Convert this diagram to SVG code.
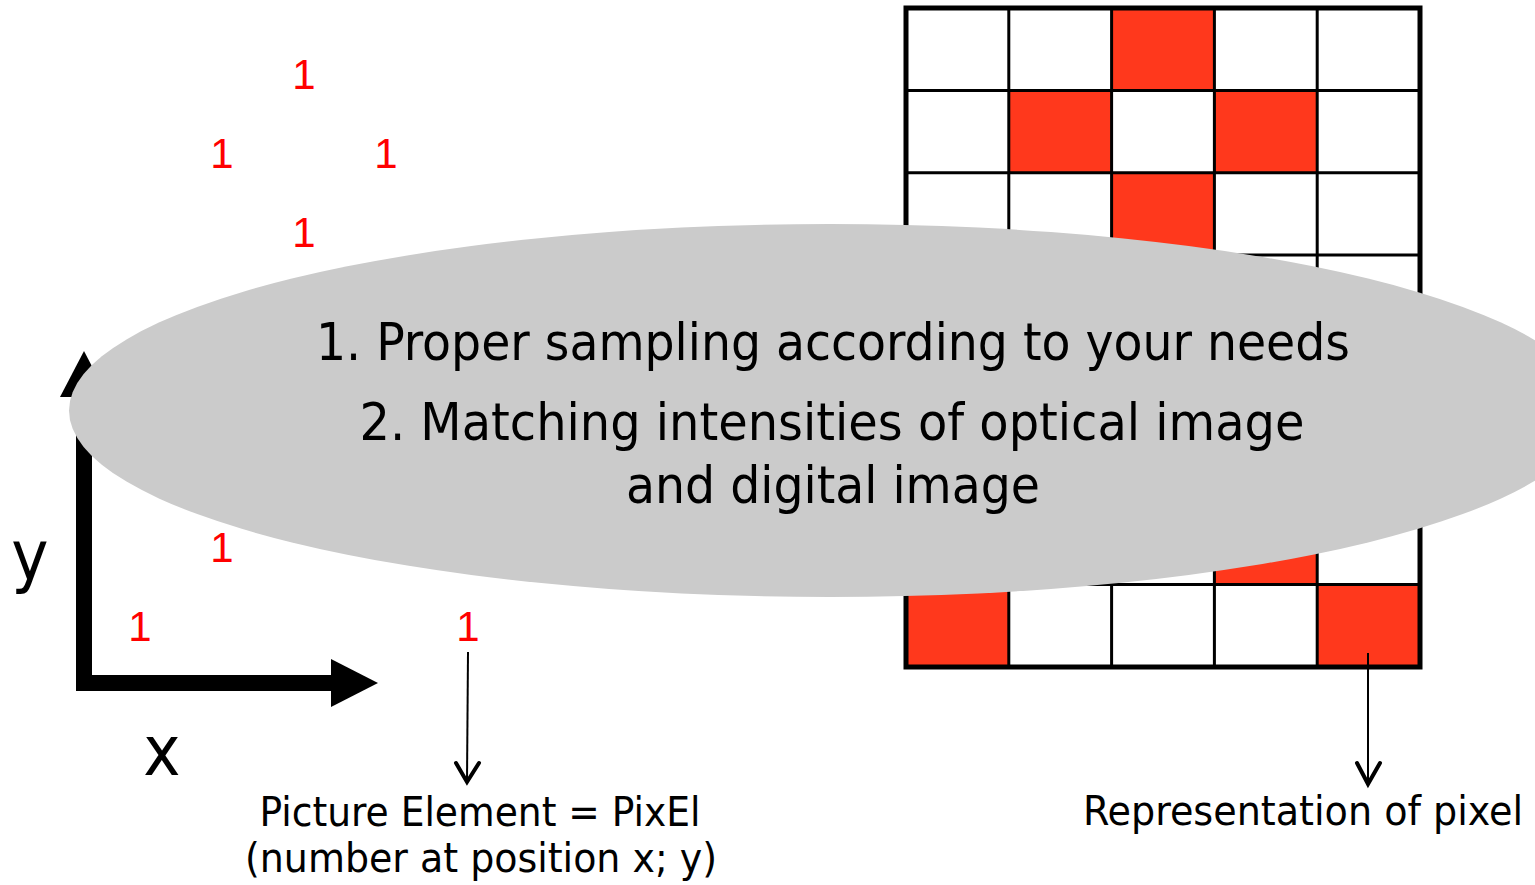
<svg xmlns="http://www.w3.org/2000/svg" width="1535" height="885" viewBox="0 0 1535 885">
<defs>
<style>
.red{fill:#FF381C}
.cell{fill:none;stroke:#000;stroke-width:3}
.num{font-family:"Liberation Sans",Arial,sans-serif;font-size:42px;fill:#FF0000;text-anchor:middle}
.lbl{font-family:"DejaVu Sans Condensed","DejaVu Sans",sans-serif;fill:#000}
.ptr{stroke:#000;stroke-width:2;fill:none}
.chev{stroke:#000;stroke-width:4;fill:none;stroke-linecap:round;stroke-linejoin:miter}
</style>
</defs>
<rect width="1535" height="885" fill="#fff"/>
<g id="grid">
<rect class="red" x="1111.6" y="8" width="102.8" height="82.4"/>
<rect class="red" x="1008.8" y="90.4" width="102.8" height="82.4"/>
<rect class="red" x="1214.4" y="90.4" width="102.8" height="82.4"/>
<rect class="red" x="1111.6" y="172.8" width="102.8" height="82.4"/>
<rect class="red" x="1214.4" y="502.3" width="102.8" height="82.4"/>
<rect class="red" x="906" y="584.6" width="102.8" height="82.4"/>
<rect class="red" x="1317.2" y="584.6" width="102.8" height="82.4"/>
<path class="cell" d="M1008.8 8V667M1111.6 8V667M1214.4 8V667M1317.2 8V667M906 90.4H1420M906 172.8H1420M906 255.1H1420M906 337.5H1420M906 419.9H1420M906 502.3H1420M906 584.6H1420"/>
<rect x="906" y="8" width="514" height="659" fill="none" stroke="#000" stroke-width="5"/>
</g>
<g id="numbers">
<text class="num" x="304" y="89">1</text>
<text class="num" x="222" y="168">1</text>
<text class="num" x="386" y="168">1</text>
<text class="num" x="304" y="247">1</text>
<text class="num" x="222" y="562">1</text>
<text class="num" x="140" y="641">1</text>
<text class="num" x="468" y="641">1</text>
</g>
<g id="axes">
<path d="M84 397V683H331" fill="none" stroke="#000" stroke-width="16"/>
<polygon points="84,351 108,397 60,397" fill="#000"/>
<polygon points="378,683 331,659 331,707" fill="#000"/>
<text class="lbl" x="30" y="580" font-size="70" text-anchor="middle">y</text>
<text class="lbl" x="162" y="775" font-size="70" text-anchor="middle">x</text>
</g>
<g id="connectors">
<path class="ptr" d="M468 652L467 781"/>
<path class="chev" d="M456 763L467 782L479 763"/>
<path class="ptr" d="M1368 653V783"/>
<path class="chev" d="M1357 763L1368 784L1380 763"/>
</g>
<g id="pixel-label">
<text class="lbl" x="480" y="826" font-size="40" text-anchor="middle" textLength="441" lengthAdjust="spacingAndGlyphs">Picture Element = PixEl</text>
<text class="lbl" x="481" y="872" font-size="40" text-anchor="middle" textLength="472" lengthAdjust="spacingAndGlyphs">(number at position x; y)</text>
</g>
<g id="repr-label">
<text class="lbl" x="1303" y="825" font-size="40" text-anchor="middle" textLength="440" lengthAdjust="spacingAndGlyphs">Representation of pixel</text>
</g>
<g id="ellipse-note">
<ellipse cx="830" cy="410.5" rx="761" ry="186.5" fill="#CBCBCB"/>
<text class="lbl" x="833" y="360" font-size="51" text-anchor="middle" textLength="1034" lengthAdjust="spacingAndGlyphs">1. Proper sampling according to your needs</text>
<text class="lbl" x="832" y="440" font-size="51" text-anchor="middle" textLength="945" lengthAdjust="spacingAndGlyphs">2. Matching intensities of optical image</text>
<text class="lbl" x="833" y="503" font-size="51" text-anchor="middle" textLength="414" lengthAdjust="spacingAndGlyphs">and digital image</text>
</g>
</svg>
